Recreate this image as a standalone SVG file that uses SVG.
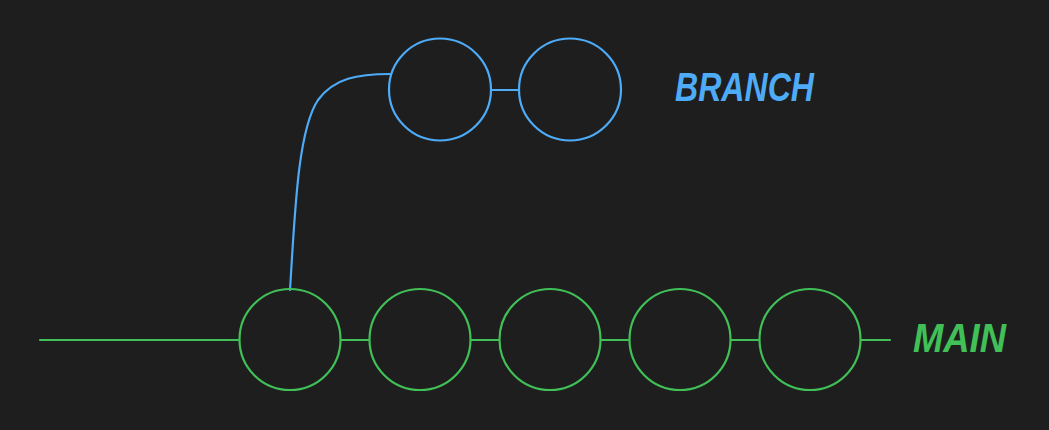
<svg xmlns="http://www.w3.org/2000/svg" width="1049" height="430" viewBox="0 0 1049 430">
<style>
.g{fill:none;stroke:#40c057;stroke-width:2.2;stroke-linecap:round}
.b{fill:none;stroke:#4dabf7;stroke-width:2.2;stroke-linecap:round}
.t{font-family:"Liberation Sans",Arial,sans-serif;font-weight:bold;font-style:italic;font-size:40px}
</style>
<rect width="1049" height="430" fill="#1e1e1e"/>
<g id="connectors">
<path class="g" d="M40,340 L239,340"/>
<path class="g" d="M341,340 L369,340"/>
<path class="g" d="M471,340 L499,340"/>
<path class="g" d="M601,340 L629,340"/>
<path class="g" d="M731,340 L759,340"/>
<path class="g" d="M861,340 L890,340"/>
<path class="b" d="M491,90 L519,90"/>
<path class="b" d="M290,290 C295,210 298,130 318,100 C334,78 358,74 390,74"/>
</g>
<g id="main1"><circle class="g" cx="290" cy="339.5" r="50.5"/></g>
<g id="main2"><circle class="g" cx="420" cy="339.5" r="50.5"/></g>
<g id="main3"><circle class="g" cx="550" cy="339.5" r="50.5"/></g>
<g id="main4"><circle class="g" cx="680" cy="339.5" r="50.5"/></g>
<g id="main5"><circle class="g" cx="810" cy="339.5" r="50.5"/></g>
<g id="branch1"><circle class="b" cx="440" cy="89.5" r="51"/></g>
<g id="branch2"><circle class="b" cx="570" cy="89.5" r="51"/></g>
<g id="label-branch"><text class="t" x="675" y="101" fill="#4dabf7" textLength="139" lengthAdjust="spacingAndGlyphs">BRANCH</text></g>
<g id="label-main"><text class="t" x="913" y="352" fill="#40c057" textLength="93" lengthAdjust="spacingAndGlyphs">MAIN</text></g>
</svg>
